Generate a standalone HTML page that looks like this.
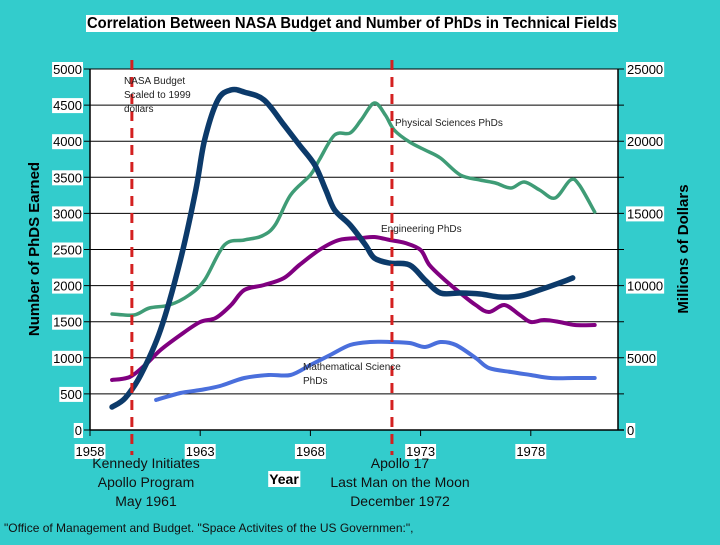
<!DOCTYPE html>
<html><head><meta charset="utf-8">
<style>
html,body{margin:0;padding:0}
body{width:720px;height:540px;background:#33cccc;font-family:"Liberation Sans",sans-serif;overflow:hidden}
</style></head>
<body>
<svg width="720" height="540" viewBox="0 0 720 540" xmlns="http://www.w3.org/2000/svg">
<g id="root"></g>
</svg>
<script>
const leftTicks=[0,500,1000,1500,2000,2500,3000,3500,4000,4500,5000];
const rightTicks=[0,5000,10000,15000,20000,25000];
const yearTicks=[1958,1963,1968,1973,1978];
const budgetYears=[1959.0,1959.6,1960.3,1961.2,1962.1,1962.8,1963.2,1963.8,1964.4,1965.0,1965.9,1966.8,1967.5,1968.2,1968.7,1969.1,1969.8,1970.5,1970.9,1971.6,1972.5,1973.2,1973.9,1974.8,1975.7,1976.6,1977.5,1978.4,1979.3,1979.9];
const budgetValues=[1590,2220,3810,6930,11770,16620,20080,22850,23550,23400,22850,21120,19740,18350,16620,15240,14200,12810,11910,11560,11430,10390,9490,9490,9420,9210,9280,9700,10180,10530];
const physYears=[1959.0,1960.0,1960.7,1961.6,1962.5,1963.2,1964.1,1965.0,1965.8,1966.4,1967.1,1968.0,1968.4,1969.1,1969.8,1970.3,1970.9,1971.4,1971.8,1972.5,1973.2,1973.9,1974.8,1975.7,1976.4,1977.1,1977.7,1978.4,1979.1,1979.8,1980.2,1980.9];
const physValues=[1607,1593,1690,1731,1870,2078,2562,2632,2687,2839,3255,3532,3740,4086,4113,4294,4529,4363,4155,3989,3878,3767,3532,3463,3421,3352,3435,3324,3213,3463,3393,3019];
const engYears=[1959.0,1959.8,1960.5,1961.2,1962.1,1963.0,1963.7,1964.4,1965.0,1965.9,1966.8,1967.5,1968.4,1969.3,1970.3,1970.9,1971.6,1972.3,1973.0,1973.4,1974.1,1974.8,1975.5,1976.1,1976.8,1977.5,1978.0,1978.6,1979.3,1980.0,1980.9];
const engValues=[693,734,900,1108,1316,1496,1551,1731,1939,2008,2105,2285,2493,2632,2659,2673,2632,2590,2493,2285,2078,1897,1731,1634,1731,1593,1496,1524,1496,1454,1454];
const mathYears=[1961.0,1962.1,1963.0,1963.9,1965.0,1966.1,1967.1,1968.0,1968.9,1969.8,1970.7,1971.6,1972.5,1973.2,1973.9,1974.6,1975.5,1976.1,1977.1,1978.0,1978.9,1980.0,1980.9];
const mathValues=[416,512,554,609,720,762,762,900,1039,1177,1219,1219,1205,1150,1219,1177,997,859,803,762,720,720,720];
const eventYears=[1959.9,1971.7];

const L=90,R=618,T=69,B=430;
const X=y=>L+(y-1958)*22.04;
const YL=v=>B-v/5000*(B-T);
const YR=v=>B-v/25000*(B-T);
const NS='http://www.w3.org/2000/svg';
const root=document.getElementById('root');
function mk(tag,attrs,parent){const e=document.createElementNS(NS,tag);for(const k in attrs)e.setAttribute(k,attrs[k]);(parent||root).appendChild(e);return e;}
function txt(s,x,y,size,opts){const o=Object.assign({x:x,y:y,'font-size':size,fill:'#000'},opts||{});const e=mk('text',o);e.textContent=s;return e;}
function labelBox(s,x,y,size,anchor,name,extra){
  const t=txt(s,x,y,size,Object.assign({'text-anchor':anchor},extra||{}));
  
  
  const bb=t.getBBox();
  const r=mk('rect',{x:bb.x-1,y:bb.y,width:bb.width+2,height:bb.height,fill:'#fff'});
  root.insertBefore(r,t);
  
  
}
const bg=mk('rect',{x:L,y:T,width:R-L,height:B-T,fill:'#fff'});


leftTicks.forEach(v=>{
  const g=mk('line',{x1:L-6,x2:R+6,y1:YL(v),y2:YL(v),stroke:'#000','stroke-width':1});
  
  
  labelBox(String(v),L-8,YL(v)+5,13,'end','left-tick-label');
});
rightTicks.forEach(v=>{
  labelBox(String(v),R+9,YR(v)+5,13,'start','right-tick-label');
});
const ax1=mk('line',{x1:L,x2:L,y1:T,y2:B,stroke:'#000','stroke-width':1.5});


const ax2=mk('line',{x1:R,x2:R,y1:T,y2:B,stroke:'#000','stroke-width':1.5});


const ax3=mk('line',{x1:L,x2:R+6,y1:B,y2:B,stroke:'#000','stroke-width':1.5});


yearTicks.forEach(y=>{
  const t=mk('line',{x1:X(y),x2:X(y),y1:B,y2:B+6,stroke:'#000'});
  
  
  labelBox(String(y),X(y),B+26,13,'middle','x-tick-label');
});
function smooth(pts){
  let d='M'+pts[0][0]+','+pts[0][1];
  for(let i=0;i<pts.length-1;i++){
    const p0=pts[Math.max(0,i-1)],p1=pts[i],p2=pts[i+1],p3=pts[Math.min(pts.length-1,i+2)];
    const c1x=p1[0]+(p2[0]-p0[0])/6,c1y=p1[1]+(p2[1]-p0[1])/6;
    const c2x=p2[0]-(p3[0]-p1[0])/6,c2y=p2[1]-(p3[1]-p1[1])/6;
    d+=' C'+c1x.toFixed(1)+','+c1y.toFixed(1)+' '+c2x.toFixed(1)+','+c2y.toFixed(1)+' '+p2[0].toFixed(1)+','+p2[1].toFixed(1);
  }
  return d;
}
function series(xs,vs,yf,color,w,name){
  const p=mk('path',{d:smooth(xs.map((x,i)=>[X(x),yf(vs[i])])),fill:'none',stroke:color,'stroke-width':w,'stroke-linejoin':'round','stroke-linecap':'round'});
  
  
}
series(mathYears,mathValues,YL,'#4a6fdc',4,'math-sciences-line');
series(engYears,engValues,YL,'#800080',4,'engineering-line');
series(physYears,physValues,YL,'#3f9c76',3.5,'physical-sciences-line');
series(budgetYears,budgetValues,YR,'#0c3a6a',5.5,'nasa-budget-line');
eventYears.forEach(y=>{
  const l=mk('line',{x1:X(y),x2:X(y),y1:60,y2:455,stroke:'#d42020','stroke-width':3,'stroke-dasharray':'10,7'});
  
  
});
function ann(lines,x,y,name){lines.forEach((s,i)=>{const t=txt(s,x,y+i*14,10,{fill:'#222'});});}
ann(['NASA Budget','Scaled to 1999','dollars'],124,84,'budget-annotation');
ann(['Physical Sciences PhDs'],395,126,'physical-annotation');
ann(['Engineering PhDs'],381,232,'engineering-annotation');
ann(['Mathematical Science','PhDs'],303,370,'math-annotation');
labelBox('Correlation Between NASA Budget and Number of PhDs in Technical Fields',87,28,15.5,'start','chart-title',{'font-weight':'bold',textLength:530,lengthAdjust:'spacingAndGlyphs'});
const yt=txt('Number of PhDS Earned',0,0,15,{'font-weight':'bold','text-anchor':'middle',transform:'translate(39,249) rotate(-90)'});


const yt2=txt('Millions of Dollars',0,0,15,{'font-weight':'bold','text-anchor':'middle',transform:'translate(688,249) rotate(-90)'});


labelBox('Year',284,484,14,'middle','x-axis-title',{'font-weight':'bold'});
function ann2(lines,x,y,name){lines.forEach((s,i)=>{const t=txt(s,x,y+i*19,14,{'text-anchor':'middle',fill:'#111'});});}
ann2(['Kennedy Initiates','Apollo Program','May 1961'],146,468,'kennedy-caption');
ann2(['Apollo 17','Last Man on the Moon','December 1972'],400,468,'apollo-caption');
const src=txt('"Office of Management and Budget. "Space Activites of the US Governmen:",',4,532,12,{fill:'#111'});


</script>
</body></html>
